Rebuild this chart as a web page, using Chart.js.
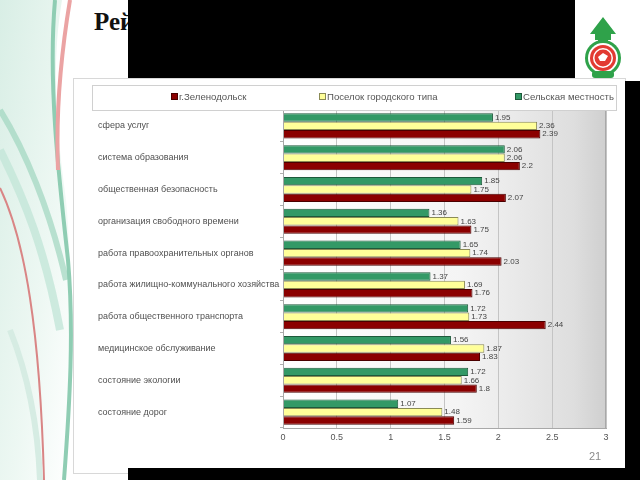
<!DOCTYPE html>
<html>
<head>
<meta charset="utf-8">
<script src="https://cdn.jsdelivr.net/npm/chart.js@4"></script>
<style>
  html, body { margin: 0; padding: 0; }
  body { width: 640px; height: 480px; position: relative; overflow: hidden; background: #fff; font-family: "Liberation Sans", Arial, sans-serif; }
  #deco { position: absolute; left: 0; top: 0; }
  #title { position: absolute; left: 94px; top: 8px; font: bold 25px "Liberation Serif", serif; color: #111; }
  #panel { position: absolute; left: 73px; top: 78px; width: 551px; height: 394px; border: 1px solid #d8d8d8; background: #fff; }
  #chart { position: absolute; left: 0; top: 0; }
  .blk { position: absolute; background: #000; }
  #pnum { position: absolute; left: 589px; top: 450px; font-size: 11px; color: #8a8a8a; }
</style>
</head>
<body>
<svg id="deco" width="640" height="480">
  <defs>
    <linearGradient id="gfill" x1="0" y1="0" x2="1" y2="1">
      <stop offset="0" stop-color="#cfeadf"/>
      <stop offset="0.6" stop-color="#e9f6f0"/>
      <stop offset="1" stop-color="#ffffff"/>
    </linearGradient>
  </defs>
  <path d="M0 0 L62 0 C52 60 55 120 66 200 C72 260 70 330 66 480 L0 480 Z" fill="url(#gfill)" opacity="0.8"/>
  <path d="M0 110 C25 150 50 210 66 280" stroke="#9fd5bf" stroke-width="6" fill="none" opacity="0.7"/>
  <path d="M0 150 C25 200 45 250 60 330" stroke="#c3e6d8" stroke-width="8" fill="none" opacity="0.8"/>
  <path d="M55 0 C48 80 58 170 68 260 C74 330 70 400 64 480" stroke="#8fcdb3" stroke-width="4" fill="none"/>
  <path d="M70 0 C60 60 56 120 58 170" stroke="#eba3a3" stroke-width="4" fill="none"/>
  <path d="M0 188 C25 240 40 330 44 480" stroke="#d98585" stroke-width="2" fill="none"/>
  <path d="M10 330 C30 380 38 430 40 480" stroke="#d6ece3" stroke-width="6" fill="none"/>
  <!-- logo -->
  <polygon points="603,17 590,34 598,34 598,42 608,42 608,34 616,34" fill="#2fa24a"/>
  <circle cx="603" cy="58" r="18" fill="#2fa24a"/>
  <circle cx="603" cy="58" r="15" fill="#fff"/>
  <circle cx="603" cy="58" r="13" fill="#e23a32"/>
  <circle cx="603" cy="58" r="10" fill="#fff"/>
  <circle cx="603" cy="58" r="8.5" fill="#e23a32"/>
  <path d="M598 57 L603 53 L608 56 L605 61 L600 61 Z" fill="#fff"/>
  <rect x="592" y="71" width="22" height="7" rx="3" fill="#2fa24a"/>
  <rect x="595" y="34" width="16" height="6" fill="#2fa24a"/>
</svg>
<div id="title">Рей</div>
<div class="blk" style="left:128px;top:0;width:447px;height:80px;"></div>
<div id="panel"><canvas id="chart" width="551" height="392"></canvas></div>
<div id="pnum">21</div>
<div class="blk" style="left:625px;top:81px;width:15px;height:399px;"></div>
<div class="blk" style="left:128px;top:468px;width:512px;height:12px;"></div>

<script>
const categories = [
  'сфера услуг',
  'система образования',
  'общественная безопасность',
  'организация свободного времени',
  'работа правоохранительных органов',
  'работа жилищно-коммунального хозяйства',
  'работа общественного транспорта',
  'медицинское обслуживание',
  'состояние экологии',
  'состояние дорог'
];
const rural = [1.95, 2.06, 1.85, 1.36, 1.65, 1.37, 1.72, 1.56, 1.72, 1.07];
const township = [2.36, 2.06, 1.75, 1.63, 1.74, 1.69, 1.73, 1.87, 1.66, 1.48];
const zelenodolsk = [2.39, 2.2, 2.07, 1.75, 2.03, 1.76, 2.44, 1.83, 1.8, 1.59];
const xTicks = [0, 0.5, 1, 1.5, 2, 2.5, 3];

const plotBg = {
  id: 'plotBg',
  beforeDraw(chart) {
    const { ctx, chartArea: a } = chart;
    const g = ctx.createLinearGradient(a.left, 0, a.right, 0);
    g.addColorStop(0, '#ffffff');
    g.addColorStop(0.55, '#f4f4f4');
    g.addColorStop(0.9, '#dedede');
    g.addColorStop(1, '#cfcfcf');
    ctx.save();
    ctx.fillStyle = g;
    ctx.fillRect(a.left, a.top, a.right - a.left, a.bottom - a.top);
    ctx.restore();
  },
  afterDraw(chart) {
    const { ctx, chartArea: a } = chart;
    ctx.save();
    ctx.strokeStyle = '#a8a8a8';
    ctx.lineWidth = 1;
    ctx.strokeRect(a.left + 0.5, a.top + 0.5, a.right - a.left - 1, a.bottom - a.top);
    ctx.restore();
  }
};

const valueLabels = {
  id: 'valueLabels',
  afterDatasetsDraw(chart) {
    const ctx = chart.ctx;
    ctx.save();
    ctx.font = '8px "Liberation Sans", Arial, sans-serif';
    ctx.fillStyle = '#444';
    ctx.textBaseline = 'middle';
    ctx.textAlign = 'left';
    chart.data.datasets.forEach((ds, i) => {
      chart.getDatasetMeta(i).data.forEach((bar, j) => {
        ctx.fillText(String(ds.data[j]), bar.x + 2, bar.y);
      });
    });
    ctx.restore();
  }
};

// legend box like the excel one, items spread out
const boxLegend = {
  id: 'boxLegend',
  afterDraw(chart) {
    const ctx = chart.ctx;
    ctx.save();
    ctx.fillStyle = '#fff';
    ctx.fillRect(18, 7, 524, 25);
    ctx.strokeStyle = '#d0d0d0';
    ctx.strokeRect(18.5, 6.5, 524, 25);
    ctx.font = '9.6px "Liberation Sans", Arial, sans-serif';
    ctx.textBaseline = 'middle';
    const xs = [97, 245, 441];
    const order = [2, 1, 0];
    order.forEach((di, k) => {
      const ds = chart.data.datasets[di];
      ctx.fillStyle = ds.backgroundColor;
      ctx.fillRect(xs[k], 14, 7, 7);
      ctx.strokeStyle = ds.borderColor;
      ctx.strokeRect(xs[k] + 0.5, 14.5, 6, 6);
      ctx.fillStyle = '#555';
      ctx.fillText(ds.label, xs[k] + 8, 18);
    });
    ctx.restore();
  }
};

new Chart(document.getElementById('chart'), {
  type: 'bar',
  data: {
    labels: categories,
    datasets: [
      { label: 'Сельская местность', data: rural, backgroundColor: '#339966', borderColor: '#1d5a3b', borderWidth: 1 },
      { label: 'Поселок городского типа', data: township, backgroundColor: '#ffff99', borderColor: '#8b8b55', borderWidth: 1 },
      { label: 'г.Зеленодольск', data: zelenodolsk, backgroundColor: '#8b0000', borderColor: '#4a0000', borderWidth: 1 }
    ]
  },
  options: {
    indexAxis: 'y',
    responsive: false,
    animation: false,
    devicePixelRatio: 1,
    categoryPercentage: 0.79,
    barPercentage: 1,
    layout: { padding: { left: 24, top: 31, right: 19, bottom: 23 } },
    plugins: { legend: { display: false }, tooltip: { enabled: false } },
    scales: {
      x: {
        min: 0, max: 3,
        afterBuildTicks(scale) { scale.ticks = xTicks.map(v => ({ value: v })); },
        afterFit(scale) { scale.height = 20; },
        grid: { color: '#c4c4c4', drawTicks: false },
        border: { color: '#a8a8a8' },
        ticks: {
          color: '#555', padding: 4,
          font: { size: 9, family: '"Liberation Sans", Arial, sans-serif' },
          callback: v => String(v)
        }
      },
      y: {
        afterFit(scale) { scale.width = 185; },
        grid: { drawOnChartArea: false, tickLength: 3, color: '#b0b0b0' },
        border: { color: '#a8a8a8' },
        ticks: { crossAlign: 'far', color: '#505050', autoSkip: false, font: { size: 9, family: '"Liberation Sans", Arial, sans-serif' } }
      }
    }
  },
  plugins: [plotBg, valueLabels, boxLegend]
});
</script>
</body>
</html>
